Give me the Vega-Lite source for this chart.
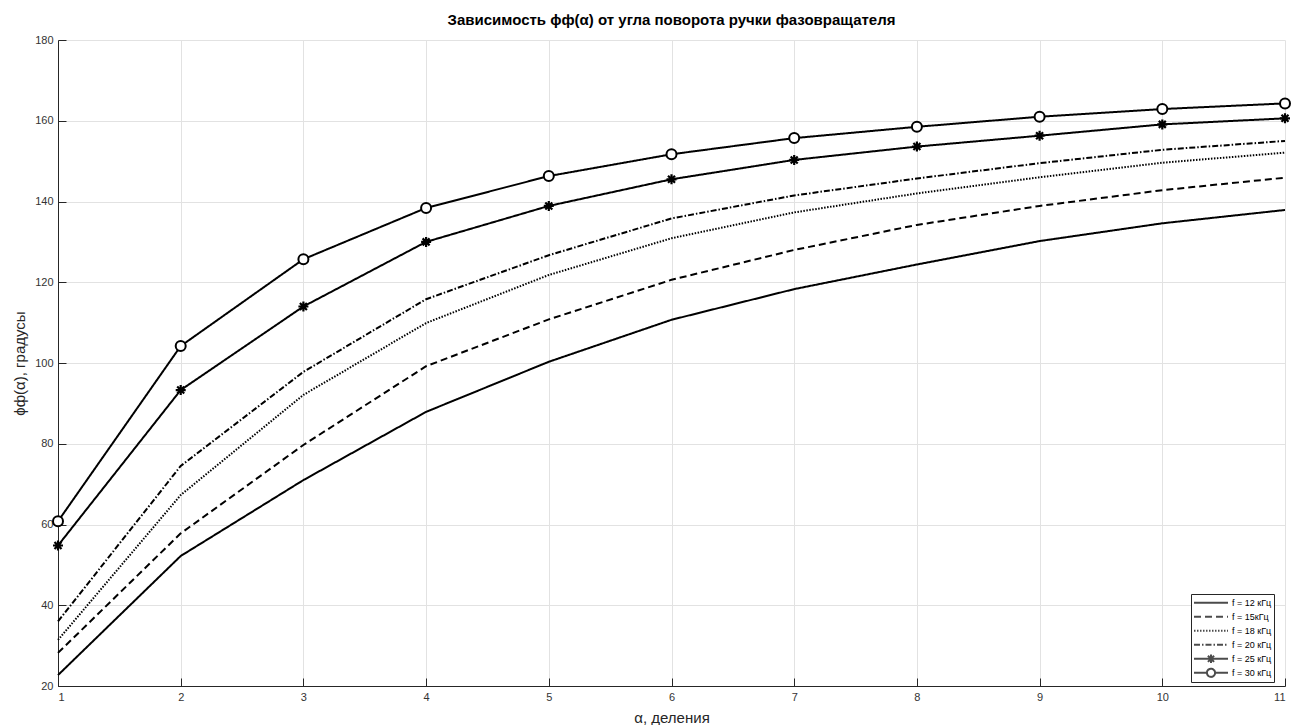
{
  "$schema": "https://vega.github.io/schema/vega-lite/v6.json",
  "width": 1227,
  "height": 646,
  "autosize": {"type": "none"},
  "padding": {"left": 58, "top": 40, "right": 6, "bottom": 39},
  "background": "white",
  "config": {"view": {"stroke": null}, "font": "Liberation Sans"},
  "title": {"text": "Зависимость ϕф(α) от угла поворота ручки фазовращателя", "fontSize": 15, "fontWeight": "bold", "color": "black", "font": "Liberation Sans", "anchor": "middle", "offset": 6},
  "data": {"values": [
    {"a":1,"phi":22.7,"s":"f = 12 кГц"},{"a":2,"phi":52.2,"s":"f = 12 кГц"},{"a":3,"phi":71,"s":"f = 12 кГц"},{"a":4,"phi":87.9,"s":"f = 12 кГц"},{"a":5,"phi":100.3,"s":"f = 12 кГц"},{"a":6,"phi":110.7,"s":"f = 12 кГц"},{"a":7,"phi":118.3,"s":"f = 12 кГц"},{"a":8,"phi":124.4,"s":"f = 12 кГц"},{"a":9,"phi":130.2,"s":"f = 12 кГц"},{"a":10,"phi":134.6,"s":"f = 12 кГц"},{"a":11,"phi":137.9,"s":"f = 12 кГц"},
    {"a":1,"phi":28.2,"s":"f = 15кГц"},{"a":2,"phi":57.8,"s":"f = 15кГц"},{"a":3,"phi":79.7,"s":"f = 15кГц"},{"a":4,"phi":99.2,"s":"f = 15кГц"},{"a":5,"phi":110.8,"s":"f = 15кГц"},{"a":6,"phi":120.6,"s":"f = 15кГц"},{"a":7,"phi":128,"s":"f = 15кГц"},{"a":8,"phi":134.2,"s":"f = 15кГц"},{"a":9,"phi":138.9,"s":"f = 15кГц"},{"a":10,"phi":142.8,"s":"f = 15кГц"},{"a":11,"phi":145.9,"s":"f = 15кГц"},
    {"a":1,"phi":31.4,"s":"f = 18 кГц"},{"a":2,"phi":67.3,"s":"f = 18 кГц"},{"a":3,"phi":92.1,"s":"f = 18 кГц"},{"a":4,"phi":109.9,"s":"f = 18 кГц"},{"a":5,"phi":121.8,"s":"f = 18 кГц"},{"a":6,"phi":130.9,"s":"f = 18 кГц"},{"a":7,"phi":137.3,"s":"f = 18 кГц"},{"a":8,"phi":142,"s":"f = 18 кГц"},{"a":9,"phi":146,"s":"f = 18 кГц"},{"a":10,"phi":149.6,"s":"f = 18 кГц"},{"a":11,"phi":152.1,"s":"f = 18 кГц"},
    {"a":1,"phi":36,"s":"f = 20 кГц"},{"a":2,"phi":74.5,"s":"f = 20 кГц"},{"a":3,"phi":97.8,"s":"f = 20 кГц"},{"a":4,"phi":115.8,"s":"f = 20 кГц"},{"a":5,"phi":126.7,"s":"f = 20 кГц"},{"a":6,"phi":135.8,"s":"f = 20 кГц"},{"a":7,"phi":141.5,"s":"f = 20 кГц"},{"a":8,"phi":145.7,"s":"f = 20 кГц"},{"a":9,"phi":149.5,"s":"f = 20 кГц"},{"a":10,"phi":152.8,"s":"f = 20 кГц"},{"a":11,"phi":155,"s":"f = 20 кГц"},
    {"a":1,"phi":54.8,"s":"f = 25 кГц"},{"a":2,"phi":93.3,"s":"f = 25 кГц"},{"a":3,"phi":114,"s":"f = 25 кГц"},{"a":4,"phi":130,"s":"f = 25 кГц"},{"a":5,"phi":138.9,"s":"f = 25 кГц"},{"a":6,"phi":145.5,"s":"f = 25 кГц"},{"a":7,"phi":150.3,"s":"f = 25 кГц"},{"a":8,"phi":153.6,"s":"f = 25 кГц"},{"a":9,"phi":156.3,"s":"f = 25 кГц"},{"a":10,"phi":159.1,"s":"f = 25 кГц"},{"a":11,"phi":160.6,"s":"f = 25 кГц"},
    {"a":1,"phi":60.8,"s":"f = 30 кГц"},{"a":2,"phi":104.2,"s":"f = 30 кГц"},{"a":3,"phi":125.7,"s":"f = 30 кГц"},{"a":4,"phi":138.4,"s":"f = 30 кГц"},{"a":5,"phi":146.3,"s":"f = 30 кГц"},{"a":6,"phi":151.7,"s":"f = 30 кГц"},{"a":7,"phi":155.7,"s":"f = 30 кГц"},{"a":8,"phi":158.5,"s":"f = 30 кГц"},{"a":9,"phi":161,"s":"f = 30 кГц"},{"a":10,"phi":162.9,"s":"f = 30 кГц"},{"a":11,"phi":164.3,"s":"f = 30 кГц"}
  ]},
  "encoding": {
    "x": {"field": "a", "type": "quantitative", "scale": {"domain": [1, 11], "nice": false, "zero": false},
      "axis": {"title": "α, деления", "values": [1,2,3,4,5,6,7,8,9,10,11], "format": "d", "grid": true, "gridColor": "#e2e2e2", "domainColor": "#262626", "tickColor": "#262626", "tickSize": -8, "labelFontSize": 11, "labelColor": "#333333", "labelFont": "Liberation Sans", "labelPadding": 13, "titleFont": "Liberation Sans", "titleFontSize": 15, "titleFontWeight": "normal", "titleColor": "#262626", "titlePadding": 8}},
    "y": {"field": "phi", "type": "quantitative", "scale": {"domain": [20, 180], "nice": false, "zero": false},
      "axis": {"title": "ϕф(α), градусы", "values": [20,40,60,80,100,120,140,160,180], "grid": true, "gridColor": "#e2e2e2", "domainColor": "#262626", "tickColor": "#262626", "tickSize": -8, "labelFontSize": 11, "labelColor": "#333333", "labelFont": "Liberation Sans", "labelPadding": 13, "titleFont": "Liberation Sans", "titleFontSize": 15, "titleFontWeight": "normal", "titleColor": "#262626", "titlePadding": 7}}
  },
  "layer": [
    {
      "mark": {"type": "line", "color": "black", "strokeWidth": 2},
      "encoding": {
        "strokeDash": {"field": "s", "type": "nominal",
          "scale": {"domain": ["f = 12 кГц","f = 15кГц","f = 18 кГц","f = 20 кГц","f = 25 кГц","f = 30 кГц"], "range": [[1,0],[7,4],[1.5,1.5],[6,2,1.5,2],[1,0],[1,0]]},
          "legend": {"orient": "none", "legendX": 1133, "legendY": 554, "title": null, "symbolSize": 1156, "symbolStrokeWidth": 2, "symbolStrokeColor": "black", "symbolFillColor": "transparent", "labelFontSize": 9, "labelFont": "Liberation Sans", "labelColor": "black", "labelOffset": 3, "padding": 2, "rowPadding": 0, "clipHeight": 13.6, "strokeColor": "#262626", "fillColor": "white", "cornerRadius": 0}}
      }
    },
    {
      "transform": [{"filter": "datum.s == 'f = 25 кГц'"}],
      "mark": {"type": "point", "shape": "M-1,0H1M0,-1V1M-0.7,-0.7L0.7,0.7M-0.7,0.7L0.7,-0.7", "size": 100, "strokeWidth": 2.2, "color": "black", "filled": false, "opacity": 1}
    },
    {
      "transform": [{"filter": "datum.s == 'f = 30 кГц'"}],
      "mark": {"type": "point", "shape": "circle", "size": 100, "strokeWidth": 2, "fill": "white", "stroke": "black", "filled": true, "opacity": 1}
    },
    {
      "transform": [{"filter": "false"}],
      "mark": {"type": "point", "color": "black", "filled": false, "strokeWidth": 2},
      "encoding": {
        "shape": {"field": "s", "type": "nominal",
          "scale": {"domain": ["f = 12 кГц","f = 15кГц","f = 18 кГц","f = 20 кГц","f = 25 кГц","f = 30 кГц"],
            "range": ["M-1,0H1", "M-1,0H1", "M-1,0H1", "M-1,0H1", "M-1,0H1M0,-0.25V0.25M-0.18,-0.18L0.18,0.18M-0.18,0.18L0.18,-0.18", "M-1,0H-0.24M0.24,0H1M-0.24,0A0.24,0.24 0 1,1 0.24,0A0.24,0.24 0 1,1 -0.24,0"]},
          "legend": {"orient": "none", "legendX": 1133, "legendY": 554, "title": null, "symbolSize": 1156, "symbolStrokeWidth": 2, "symbolStrokeColor": "black", "symbolFillColor": "transparent", "labelFontSize": 9, "labelFont": "Liberation Sans", "labelColor": "black", "labelOffset": 3, "padding": 2, "rowPadding": 0, "clipHeight": 13.6, "strokeColor": "#262626", "fillColor": "white", "cornerRadius": 0}}
      }
    }
  ]
}
